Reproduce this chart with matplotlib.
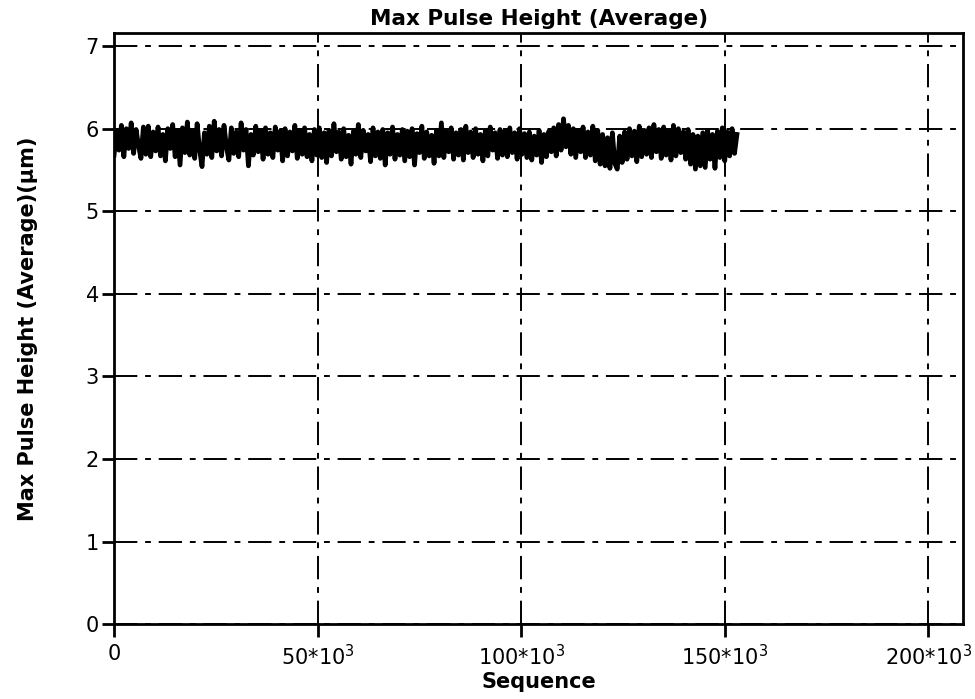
import matplotlib
matplotlib.use("Agg")
import matplotlib.pyplot as plt
from matplotlib.ticker import FixedLocator, FixedFormatter

plt.rcParams["path.simplify"] = False

step = 600
pulse_height = [
    5.68, 5.97, 5.74, 6.04, 5.66, 6.00, 5.76, 6.07, 5.70, 5.99,
    5.80, 5.64, 6.02, 5.69, 6.03, 5.66, 5.96, 5.73, 6.02, 5.67,
    5.93, 5.61, 6.00, 5.76, 6.05, 5.66, 5.98, 5.56, 6.01, 5.71,
    6.08, 5.68, 5.97, 5.64, 6.06, 5.75, 5.54, 5.95, 5.69, 6.03,
    5.65, 6.09, 5.73, 5.99, 5.67, 6.04, 5.78, 5.62, 6.01, 5.70,
    5.96, 5.66, 6.07, 5.74, 5.99, 5.55, 5.93, 5.68, 6.03, 5.72,
    5.98, 5.63, 6.01, 5.69, 5.95, 5.65, 6.02, 5.74, 5.97, 5.61,
    6.00, 5.67, 5.96, 5.73, 6.04, 5.64, 5.98, 5.69, 6.01, 5.66,
    5.93, 5.61, 5.99, 5.68, 6.01, 5.65, 5.95, 5.59, 5.98, 5.67,
    6.06, 5.72, 5.96, 5.63, 6.00, 5.66, 5.92, 5.57, 5.97, 5.69,
    6.05, 5.65, 5.98, 5.73, 5.93, 5.60, 6.01, 5.67, 5.96, 5.64,
    5.99, 5.56, 5.95, 5.69, 6.02, 5.63, 5.93, 5.68, 5.99, 5.61,
    5.97, 5.66, 6.00, 5.56, 5.94, 5.71, 6.03, 5.64, 5.96, 5.67,
    5.92, 5.58, 5.98, 5.67, 6.07, 5.65, 5.97, 5.72, 6.01, 5.63,
    5.95, 5.68, 5.99, 5.62, 6.03, 5.71, 5.96, 5.65, 6.00, 5.69,
    5.93, 5.61, 5.98, 5.67, 6.02, 5.74, 5.95, 5.64, 5.99, 5.68,
    5.97, 5.66, 6.01, 5.71, 5.95, 5.63, 6.00, 5.69, 5.94, 5.65,
    5.96, 5.62, 5.91, 5.68, 5.98, 5.59, 5.93, 5.66, 5.97, 5.72,
    6.01, 5.67, 6.05, 5.74, 6.12, 5.78, 6.04, 5.69, 6.00, 5.65,
    5.98, 5.72, 6.02, 5.65, 5.96, 5.68, 6.03, 5.61, 5.98, 5.57,
    5.93, 5.55, 5.89, 5.52, 5.95, 5.58, 5.51, 5.91, 5.59, 5.96,
    5.63, 6.00, 5.67, 5.97, 5.60, 6.03, 5.66, 5.98, 5.69, 6.01,
    5.65, 6.05, 5.72, 5.99, 5.64, 6.02, 5.68, 5.97, 5.62, 6.04,
    5.67, 6.00, 5.71, 5.96, 5.63, 5.99, 5.57, 5.93, 5.51, 5.91,
    5.55, 5.95, 5.53, 5.98, 5.63, 5.93, 5.52, 5.97, 5.65, 6.01,
    5.61, 5.96, 5.67, 6.00, 5.70, 5.93,
]
sequence = [i * step for i in range(len(pulse_height))]

x_ticks = [0, 50000, 100000, 150000, 200000]
x_labels = ["0", r"50*10$^3$", r"100*10$^3$", r"150*10$^3$", r"200*10$^3$"]
y_ticks = [0, 1, 2, 3, 4, 5, 6, 7]

fig = plt.figure(figsize=(9.75, 6.99), dpi=100)
ax = fig.add_axes([0.117, 0.107, 0.871, 0.846])

ax.plot(sequence, pulse_height, color="black", lw=3.4, solid_joinstyle="round")

ax.set_xlim(0, 208600)
ax.set_ylim(0, 7.16)
ax.xaxis.set_major_locator(FixedLocator(x_ticks))
ax.xaxis.set_major_formatter(FixedFormatter(x_labels))
ax.set_yticks(y_ticks)

ax.grid(True, color="black", linestyle=(0, (12, 4, 3, 4)), linewidth=1.4)
ax.set_axisbelow(True)
for s in ax.spines.values():
    s.set_linewidth(2)
ax.tick_params(direction="out", length=9, width=2, labelsize=15)
ax.tick_params(axis="x", pad=5)
ax.tick_params(axis="y", pad=2)

ax.set_title("Max Pulse Height (Average)", fontsize=15.5, fontweight="bold", pad=6)
ax.set_xlabel("Sequence", fontsize=15, fontweight="bold", labelpad=2)
ax.set_ylabel("Max Pulse Height (Average)(µm)", fontsize=15, fontweight="bold", labelpad=34)

fig.savefig("out.png", dpi=100)
